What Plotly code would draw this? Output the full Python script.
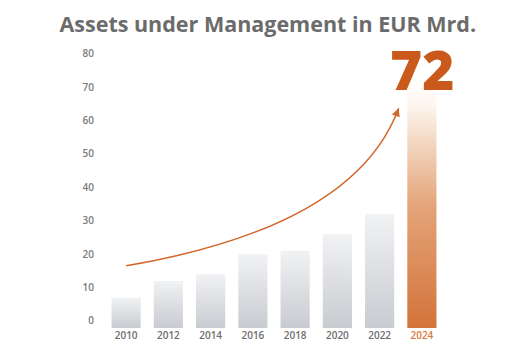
import plotly.graph_objects as go

# ---- data ----
years = ["2010", "2012", "2014", "2016", "2018", "2020", "2022", "2024"]
aum = [7, 12, 14, 20, 21, 26, 32, 72]
y_ticks = [0, 10, 20, 30, 40, 50, 60, 70, 80]
highlight_label = "72"

# ---- styles ----
GRAY_BOTTOM = "#c8cbd0"
GRAY_TOP = "#f1f2f4"
ORANGE_SCALE = [[0, "#d3733a"], [0.5, "#e4a57a"], [0.78, "#f5ddca"], [0.9, "#fdf5ef"], [1, "#ffffff"]]
GRAY_SCALE = [[0, GRAY_BOTTOM], [1, GRAY_TOP]]
ACCENT = "#c95a1b"
ARROW = "#d2682c"
BAR_W = 0.69
BASE = -2.1

fig = go.Figure()
x_idx = list(range(len(years)))
for i, v in zip(x_idx, aum):
    last = i == len(years) - 1
    fig.add_trace(go.Scatter(
        x=[i - BAR_W / 2, i + BAR_W / 2, i + BAR_W / 2, i - BAR_W / 2, i - BAR_W / 2],
        y=[BASE, BASE, v, v, BASE],
        mode="lines", line=dict(width=0), fill="toself",
        fillgradient=dict(type="vertical", colorscale=ORANGE_SCALE if last else GRAY_SCALE,
                          start=BASE, stop=v),
        hoverinfo="skip", showlegend=False,
    ))

# growth arrow: from the first bar towards the last one
x0, y0 = 0, 16.5
xc, yc = 5.42, 28.2
x1, y1 = 6.45, 63.7
fig.add_shape(type="path", xref="x", yref="y",
              path=f"M {x0},{y0} Q {xc},{yc} {x1},{y1}",
              line=dict(color=ARROW, width=1.5))
fig.add_annotation(x=x1, y=y1, ax=-2.8, ay=7.6, text="", showarrow=True,
                   arrowhead=2, arrowsize=1.1, arrowwidth=1.5, arrowcolor=ARROW,
                   axref="pixel", ayref="pixel", standoff=0)

fig.add_annotation(x=len(years) - 1, y=75.5, text=highlight_label, showarrow=False,
                   font=dict(family="Open Sans", size=55, color=ACCENT, weight=800),
                   xanchor="center", yanchor="middle")

ticktext = [f"<span style='color:#d9773e'>{y}</span>" if k == len(years) - 1 else y
            for k, y in enumerate(years)]

fig.update_layout(
    width=520, height=357,
    margin=dict(l=104.5, r=77.1, t=47.3, b=29),
    paper_bgcolor="white", plot_bgcolor="white",
    title=dict(text="Assets under Management in EUR Mrd.", x=0.515, xanchor="center",
               y=1 - 24 / 357, yanchor="middle",
               font=dict(family="Open Sans", size=21.5, color="#6b6b6b", weight=700)),
    xaxis=dict(range=[-0.5, 7.5], tickvals=x_idx, ticktext=ticktext, showgrid=False,
               zeroline=False, showline=False, ticks="",
               tickfont=dict(family="Open Sans", size=10, color="#6e6e6e", weight=600)),
    yaxis=dict(range=[BASE, 82], tickvals=y_ticks, showgrid=False, zeroline=False,
               showline=False, ticks="", ticklabelstandoff=10,
               tickfont=dict(family="Open Sans", size=10, color="#7a7a7a", weight=600)),
)

fig.write_html("out.html", config={"displayModeBar": False},
               post_script="document.body.style.margin='0';")
